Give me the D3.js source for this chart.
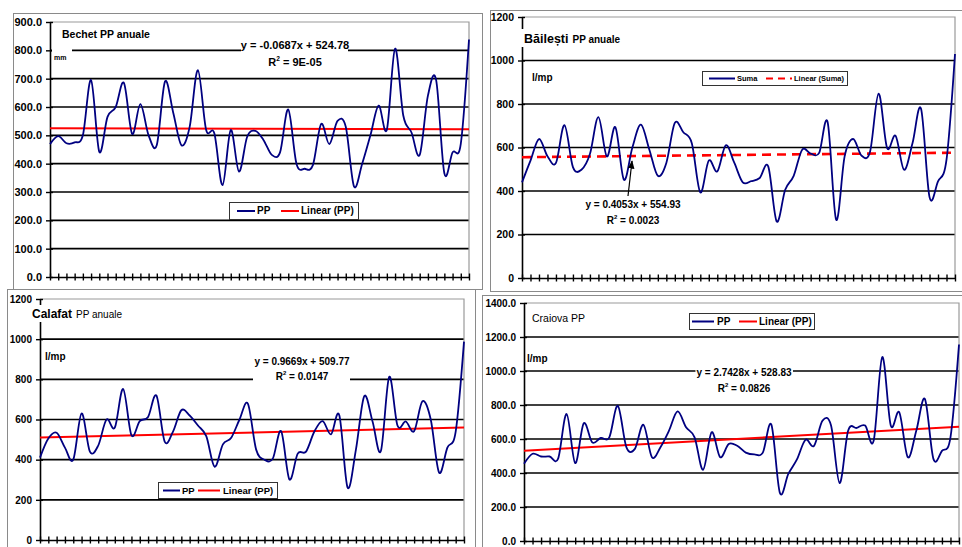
<!DOCTYPE html>
<html>
<head>
<meta charset="utf-8">
<script src="https://cdnjs.cloudflare.com/ajax/libs/d3/7.8.5/d3.min.js"></script>
<style>
  body { margin: 0; background: #fff; }
  svg { display: block; font-family: "Liberation Sans", Arial, sans-serif; }
</style>
</head>
<body>
<div id="chart"></div>
<script>
// Annual precipitation, 52 years for each station
var bechet = [469, 497, 472, 475, 500, 695, 442, 565, 600, 685,
              505, 610, 500, 466, 690, 580, 465, 530, 730, 520,
              507, 324, 519, 372, 495, 516, 483, 431, 440, 591,
              400, 382, 395, 540, 469, 551, 530, 320, 400, 500,
              605, 520, 806, 570, 510, 431, 640, 695, 366, 440,
              470, 838];
var bailesti = [440, 540, 639, 560, 529, 703, 510, 498, 570, 740,
                559, 693, 452, 600, 705, 590, 470, 529, 713, 670,
                620, 394, 540, 490, 610, 530, 440, 445, 460, 513,
                260, 406, 470, 590, 572, 575, 716, 268, 559, 639,
                562, 582, 848, 598, 654, 498, 621, 778, 372, 444,
                544, 1030];
var calafat = [410, 505, 534, 460, 400, 630, 440, 470, 600, 560,
               752, 522, 592, 613, 719, 490, 540, 646, 620, 570,
               517, 365, 476, 509, 600, 679, 450, 400, 405, 542,
               302, 430, 440, 540, 592, 526, 621, 261, 450, 716,
               590, 443, 812, 570, 590, 542, 691, 600, 336, 460,
               540, 988];
var craiova = [454, 513, 497, 497, 485, 747, 458, 692, 580, 606,
               610, 795, 552, 542, 684, 493, 552, 649, 762, 669,
               610, 419, 640, 493, 571, 560, 520, 509, 520, 684,
               283, 396, 480, 595, 560, 708, 679, 341, 649, 665,
               679, 591, 1082, 680, 757, 493, 650, 835, 483, 530,
               610, 1156];

// Linear trend coefficients [slope, intercept], x = 1..52
var trendBechet = [-0.0687, 524.78];
var trendBailesti = [0.4053, 554.93];
var trendCalafat = [0.9669, 509.77];
var trendCraiova = [2.7428, 528.83];

// Equation labels
var eqBechet = ["y = -0.0687x + 524.78", " = 9E-05"];
var eqBailesti = ["y = 0.4053x + 554.93", " = 0.0023"];
var eqCalafat = ["y = 0.9669x + 509.77", " = 0.0147"];
var eqCraiova = ["y = 2.7428x + 528.83", " = 0.0826"];

// Y axis tick values
var ticksBechet = [0, 100, 200, 300, 400, 500, 600, 700, 800, 900];
var ticksBailesti = [0, 200, 400, 600, 800, 1000, 1200];
var ticksCalafat = [0, 200, 400, 600, 800, 1000, 1200];
var ticksCraiova = [0, 200, 400, 600, 800, 1000, 1200, 1400];

var svg = d3.select("#chart").append("svg")
  .attr("width", 962)
  .attr("height", 547);

var defs = svg.append("defs");
defs.append("marker")
  .attr("id", "arrow")
  .attr("viewBox", "0 0 10 10")
  .attr("refX", 9).attr("refY", 5)
  .attr("markerWidth", 7).attr("markerHeight", 7)
  .attr("orient", "auto-start-reverse")
  .append("path")
  .attr("d", "M0,1 L10,5 L0,9 Z")
  .attr("fill", "#000");

var panels = [
  {
    values: bechet, trend: trendBechet, eq: eqBechet, ticks: ticksBechet, fmt: ".1f", tickFont: 11,
    frame: [13, 13, 469, 276],
    x0: 50, x1: 469, yTop: 22, yBot: 277, yMax: 900,
    titles: [{text: "Bechet PP anuale", x: 62, y: 38, size: 10.5, weight: "bold"}],
    unit: {text: "mm", x: 54, y: 60, size: 7},
    boxes: [[52, 46, 20, 15], [241, 39, 107, 31]],
    eqPos: {x: 295, y1: 49, y2: 66, size: 11, tight: false},
    legend: {x: 229, y: 202, w: 129, h: 17, size: 10, seriesName: "PP", trendName: "Linear (PP)",
             l1: [237, 255], t1: 257, l2: [281, 299], t2: 301, base: 214, dash: null},
    dash: null
  },
  {
    values: bailesti, trend: trendBailesti, eq: eqBailesti, ticks: ticksBailesti, fmt: "d", tickFont: 10.5,
    frame: [490, 10, 480, 281],
    x0: 522, x1: 955, yTop: 17, yBot: 278, yMax: 1200,
    titles: [{text: "Băilești", x: 524, y: 43, size: 12.5, weight: "bold"},
             {text: "PP anuale", x: null, y: 43, size: 10, weight: "bold"}],
    unit: {text: "l/mp", x: 532, y: 81, size: 10},
    boxes: [[519, 29, 102, 18]],
    eqPos: {x: 633, y1: 208, y2: 224, size: 10, tight: false},
    arrow: [628, 196, 632, 161],
    legend: {x: 702, y: 71, w: 145, h: 14, size: 7.5, seriesName: "Suma", trendName: "Linear (Suma)",
             l1: [709, 735], t1: 737, l2: [766, 792], t2: 794, base: 80.5, dash: "7,5"},
    dash: "9,6"
  },
  {
    values: calafat, trend: trendCalafat, eq: eqCalafat, ticks: ticksCalafat, fmt: "d", tickFont: 10,
    frame: [7, 289, 468, 262],
    x0: 40, x1: 464, yTop: 299, yBot: 540, yMax: 1200,
    titles: [{text: "Calafat", x: 32, y: 318, size: 12, weight: "bold"},
             {text: "PP anuale", x: null, y: 318, size: 10, weight: "normal"}],
    unit: {text: "l/mp", x: 45, y: 360, size: 10},
    boxes: [[30, 305, 95, 17], [253, 353, 97, 31]],
    eqPos: {x: 302, y1: 365, y2: 380, size: 10, tight: false},
    legend: {x: 158, y: 482, w: 119, h: 16, size: 9.5, seriesName: "PP", trendName: "Linear (PP)",
             l1: [163, 180], t1: 182, l2: [198, 220], t2: 223, base: 494, dash: null},
    dash: null
  },
  {
    values: craiova, trend: trendCraiova, eq: eqCraiova, ticks: ticksCraiova, fmt: ".1f", tickFont: 10,
    frame: [482, 295, 485, 255],
    x0: 524, x1: 959, yTop: 303, yBot: 541, yMax: 1400,
    titles: [{text: "Craiova PP", x: 532, y: 322, size: 10.5, weight: "normal"}],
    unit: {text: "l/mp", x: 527, y: 362, size: 10},
    boxes: [],
    eqPos: {x: 744, y1: 376, y2: 392, size: 10, tight: true},
    legend: {x: 689, y: 313, w: 125, h: 16, size: 10, seriesName: "PP", trendName: "Linear (PP)",
             l1: [692, 714], t1: 717, l2: [739, 757], t2: 759, base: 325, dash: null},
    dash: null
  }
];

panels.forEach(drawPanel);

function drawPanel(p) {
  var g = svg.append("g");
  var n = p.values.length;

  // outer chart frame
  g.append("rect")
    .attr("x", p.frame[0] + 0.5).attr("y", p.frame[1] + 0.5)
    .attr("width", p.frame[2]).attr("height", p.frame[3])
    .attr("fill", "none").attr("stroke", "#8a8a8a").attr("stroke-width", 1);

  var x = d3.scaleLinear().domain([0, n - 1]).range([p.x0, p.x1]);
  var y = d3.scaleLinear().domain([0, p.yMax]).range([p.yBot, p.yTop]);

  // gridlines
  g.selectAll(".grid")
    .data(p.ticks.filter(function(t) { return t > 0 && t < p.yMax; }))
    .enter().append("line")
    .attr("x1", p.x0).attr("x2", p.x1)
    .attr("y1", function(d) { return y(d); })
    .attr("y2", function(d) { return y(d); })
    .attr("stroke", "#000").attr("stroke-width", 1.6);

  // plot area border (top and right)
  g.append("path")
    .attr("d", "M" + p.x0 + "," + p.yTop + "H" + p.x1 + "V" + p.yBot)
    .attr("fill", "none").attr("stroke", "#9a9a9a").attr("stroke-width", 1.2);

  // y axis
  var yAxis = g.append("g")
    .attr("transform", "translate(" + p.x0 + ",0)")
    .call(d3.axisLeft(y).tickValues(p.ticks).tickFormat(d3.format(p.fmt))
      .tickSize(4).tickSizeOuter(0).tickPadding(4));
  yAxis.selectAll(".tick").append("line").attr("x2", 3).attr("stroke", "#000");
  yAxis.selectAll(".tick line").attr("stroke-width", 1.4);
  yAxis.select(".domain").attr("stroke-width", 1.6);
  yAxis.selectAll("text")
    .attr("font-family", "Liberation Sans, Arial, sans-serif")
    .attr("font-size", p.tickFont).attr("font-weight", "bold").attr("fill", "#000");

  // x axis with crossing tick marks
  var xAxis = g.append("g")
    .attr("transform", "translate(0," + p.yBot + ")")
    .call(d3.axisBottom(x).tickValues(d3.range(n)).tickFormat("")
      .tickSize(3.5).tickSizeOuter(0));
  xAxis.selectAll(".tick").append("line").attr("y2", -3.5).attr("stroke", "#000");
  xAxis.selectAll(".tick line").attr("stroke-width", 1.4);
  xAxis.select(".domain").attr("stroke-width", 1.6);

  // trend line
  var trendLine = d3.line()
    .x(function(d) { return x(d); })
    .y(function(d) { return y(p.trend[0] * (d + 1) + p.trend[1]); });
  g.append("path")
    .datum([0, n - 1])
    .attr("d", trendLine)
    .attr("fill", "none").attr("stroke", "#ff0000")
    .attr("stroke-width", p.dash ? 2.6 : 2)
    .attr("stroke-dasharray", p.dash);

  // series, smoothed
  var line = d3.line()
    .x(function(d, i) { return x(i); })
    .y(function(d) { return y(d); })
    .curve(d3.curveCatmullRom.alpha(0));
  g.append("path")
    .datum(p.values)
    .attr("d", line)
    .attr("fill", "none").attr("stroke", "#000080")
    .attr("stroke-width", 1.8).attr("stroke-linejoin", "round");

  // white label boxes
  p.boxes.forEach(function(b) {
    g.append("rect").attr("x", b[0]).attr("y", b[1]).attr("width", b[2]).attr("height", b[3])
      .attr("fill", "#fff");
  });

  // titles, later parts follow the earlier ones
  var nextX = 0;
  p.titles.forEach(function(t) {
    var tx = t.x !== null ? t.x : nextX + 4;
    var el = g.append("text").attr("x", tx).attr("y", t.y)
      .attr("font-size", t.size).attr("font-weight", t.weight).text(t.text);
    nextX = tx + el.node().getComputedTextLength();
  });

  // unit label
  g.append("text").attr("x", p.unit.x).attr("y", p.unit.y)
    .attr("font-size", p.unit.size).attr("font-weight", "bold").text(p.unit.text);

  // equation
  var e1 = g.append("text").attr("x", p.eqPos.x).attr("y", p.eqPos.y1)
    .attr("text-anchor", "middle").attr("font-size", p.eqPos.size).attr("font-weight", "bold")
    .text(p.eq[0]);
  if (p.eqPos.tight) {
    var bb = e1.node().getBBox();
    g.insert("rect", function() { return e1.node(); })
      .attr("x", bb.x - 1).attr("y", bb.y + 1).attr("width", bb.width + 2).attr("height", bb.height - 2)
      .attr("fill", "#fff");
  }
  var e2 = g.append("text").attr("x", p.eqPos.x).attr("y", p.eqPos.y2)
    .attr("text-anchor", "middle").attr("font-size", p.eqPos.size).attr("font-weight", "bold");
  e2.append("tspan").text("R");
  e2.append("tspan").attr("dy", -5).attr("font-size", p.eqPos.size * 0.6).text("2");
  e2.append("tspan").attr("dy", 5).text(p.eq[1]);

  // arrow pointing to the trend line
  if (p.arrow) {
    g.append("line")
      .attr("x1", p.arrow[0]).attr("y1", p.arrow[1])
      .attr("x2", p.arrow[2]).attr("y2", p.arrow[3])
      .attr("stroke", "#000").attr("stroke-width", 1.2)
      .attr("marker-end", "url(#arrow)");
  }

  // legend
  var L = p.legend;
  g.append("rect").attr("x", L.x + 0.5).attr("y", L.y + 0.5).attr("width", L.w).attr("height", L.h)
    .attr("fill", "#fff").attr("stroke", "#333").attr("stroke-width", 1);
  var midY = L.y + L.h / 2 + 0.5;
  g.append("line").attr("x1", L.l1[0]).attr("x2", L.l1[1]).attr("y1", midY).attr("y2", midY)
    .attr("stroke", "#000080").attr("stroke-width", 2);
  g.append("text").attr("x", L.t1).attr("y", L.base)
    .attr("font-size", L.size).attr("font-weight", "bold").text(L.seriesName);
  g.append("line").attr("x1", L.l2[0]).attr("x2", L.l2[1]).attr("y1", midY).attr("y2", midY)
    .attr("stroke", "#ff0000").attr("stroke-width", 2).attr("stroke-dasharray", L.dash);
  g.append("text").attr("x", L.t2).attr("y", L.base)
    .attr("font-size", L.size).attr("font-weight", "bold").text(L.trendName);
}
</script>
</body>
</html>
